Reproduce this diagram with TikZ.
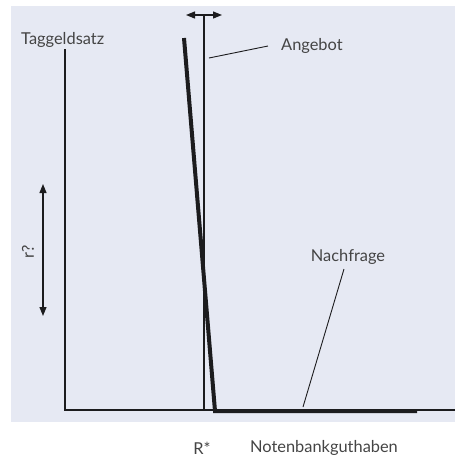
\documentclass[tikz,border=0pt]{standalone}
\usepackage{fontspec}
\setmainfont{Lato}
\usetikzlibrary{arrows.meta}
\definecolor{panel}{HTML}{E6E9F3}
\definecolor{ink}{HTML}{1C1C1E}
\definecolor{txt}{HTML}{444444}
\tikzset{
  lbl/.style={text=txt, font=\fontsize{16.4}{18}\selectfont, inner sep=0pt},
  axisline/.style={draw=ink, line width=2pt},
  curve/.style={draw=ink, line width=4pt, line join=miter},
  supply/.style={draw=ink, line width=1.6pt},
  leader/.style={draw=ink, line width=0.9pt},
  dbl/.style={draw=ink, line width=1.2pt, {Triangle[length=9pt,width=7pt]}-{Triangle[length=9pt,width=7pt]}}
}
\begin{document}
\begin{tikzpicture}[x=1pt, y=-1pt]
  \useasboundingbox (0,0) rectangle (455,459);
  % shaded plotting panel
  \fill[panel] (11,6) rectangle (455,422);

  % coordinates of the diagram
  \coordinate (yaxtop) at (65,49);
  \coordinate (origin) at (65,410);
  \coordinate (xaxend) at (455,410);
  \coordinate (stop) at (204,15);
  \coordinate (sbot) at (204,410);
  \coordinate (sl) at (186,15);
  \coordinate (sr) at (222,15);
  \coordinate (dtop) at (184,38);
  \coordinate (dkink) at (215,411);
  \coordinate (dend) at (417,411);
  \coordinate (angA) at (209,58);
  \coordinate (angB) at (268,46);
  \coordinate (nachA) at (344,269);
  \coordinate (nachB) at (303,407);
  \coordinate (rup) at (43,184);
  \coordinate (rdn) at (43,316);

  % axes
  \draw[axisline] (yaxtop) -- (origin) -- (xaxend);

  % supply of reserves and its range of shift
  \draw[supply] (stop) -- (sbot);
  \draw[dbl] (sl) -- (sr);

  % demand for reserves
  \draw[curve] (dtop) -- (dkink) -- (dend);

  % range of the rate
  \draw[dbl] (rup) -- (rdn);

  % labels
  \node[lbl, anchor=west] (tag) at (21,40) {Taggeldsatz};
  \node[lbl, anchor=west] (ang) at (281,46) {Angebot};
  \node[lbl] (nach) at (348,257) {Nachfrage};
  \node[lbl] (rs) at (202,448) {R*};
  \node[lbl] (nbg) at (324,448) {Notenbankguthaben};
  \node[lbl, rotate=90] (rq) at (28,252) {r?};

  % leader lines
  \draw[leader] (angA) -- (angB);
  \draw[leader] (nachA) -- (nachB);
\end{tikzpicture}
\end{document}
